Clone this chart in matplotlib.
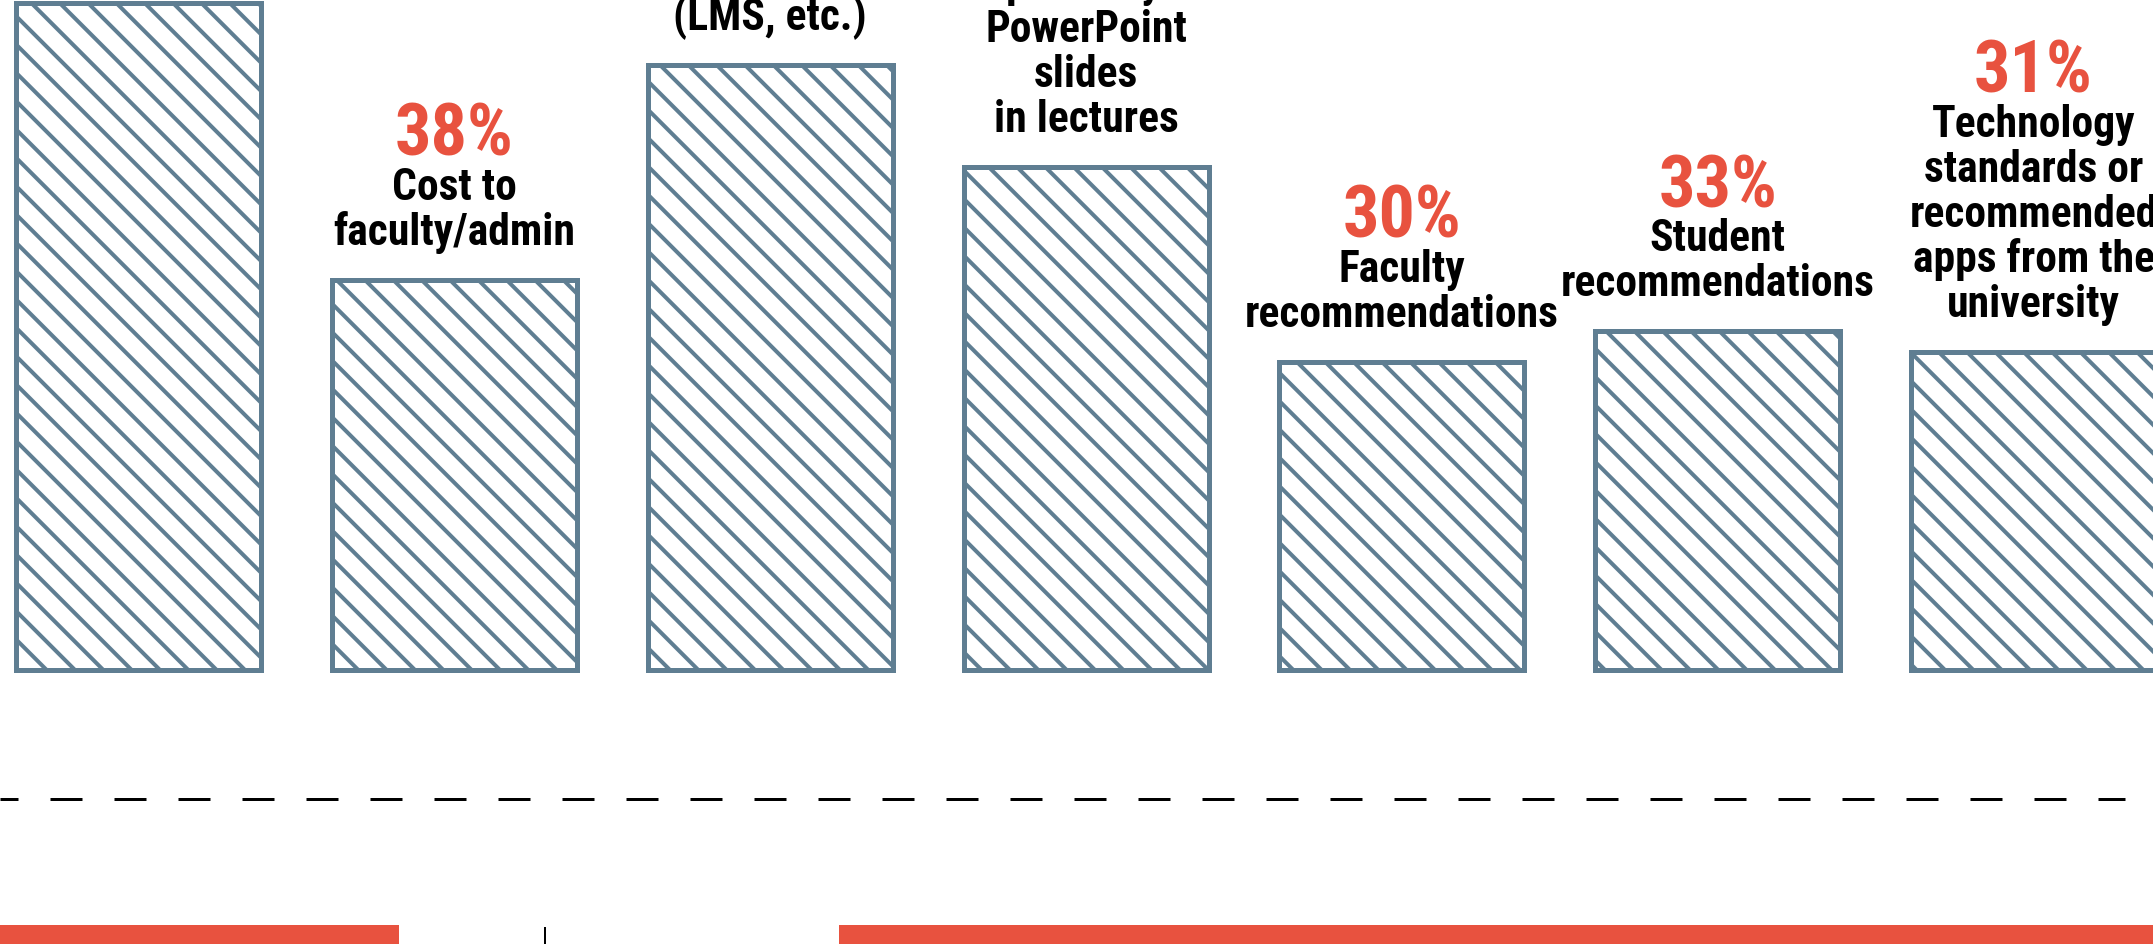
import matplotlib
matplotlib.use("Agg")
import matplotlib.pyplot as plt
from matplotlib.lines import Line2D
from matplotlib.patches import Rectangle

# data (bars 1, 3 and 4 have their labels cut off above the frame)
values = [65, 38, 59, 49, 30, 33, 31]
labels = [
    "Ease of use",
    "Cost to\nfaculty/admin",
    "Integration with\nexisting systems\n(LMS, etc.)",
    "Compatibility with\nPowerPoint\nslides\nin lectures",
    "Faculty\nrecommendations",
    "Student\nrecommendations",
    "Technology\nstandards or\nrecommended\napps from the\nuniversity",
]

BAR_COLOR = "#5f7e92"
ACCENT = "#e8523f"
FONT = ["Roboto Condensed", "Liberation Sans Narrow", "Roboto", "DejaVu Sans"]

W, H, DPI = 2153, 944, 170
PX = 72 / DPI  # one pixel in points

plt.rcParams["hatch.linewidth"] = 4 * PX
plt.rcParams["lines.scale_dashes"] = False

fig = plt.figure(figsize=(W / DPI, H / DPI), dpi=DPI)
ax = fig.add_axes([0, 0, 1, 1])
ax.set_axis_off()

pitch = 315.8   # px between bar centres
first = 138.7   # px, centre of first bar
per_pct = 10.25  # px per percent
base = 274.5     # px of baseline above bottom edge

ax.set_xlim(-first / pitch, (W - first) / pitch)
ax.set_ylim(-base / per_pct, (H - base) / per_pct)

x = list(range(len(values)))
ax.bar(x, values, width=245 / pitch, color="white", edgecolor=BAR_COLOR,
       linewidth=5 * PX, hatch="\\\\", zorder=2)

line_gap = 45 * PX
for xi, v, lab in zip(x, values, labels):
    lines = lab.split("\n")
    off = 35 * PX
    for ln in reversed(lines):
        ax.annotate(ln, (xi, v), xytext=(0, off), textcoords="offset points",
                    ha="center", va="baseline", fontsize=18.5, fontweight="bold",
                    family=FONT, color="black", annotation_clip=False)
        off += line_gap
    ax.annotate(f"{v}%", (xi, v), xytext=(0, off - 1 * PX), textcoords="offset points",
                ha="center", va="baseline", fontsize=30.5, fontweight="bold",
                family=FONT, color=ACCENT, annotation_clip=False)

# dashed separator
fig.add_artist(Line2D([0, 2125 / W], [145 / H, 145 / H], transform=fig.transFigure,
                      color="black", linewidth=3 * PX,
                      linestyle=(14 * PX, (32 * PX, 32 * PX))))

# start of the next section (cut off at bottom)
fig.add_artist(Rectangle((0, 0), 399 / W, 19 / H, transform=fig.transFigure,
                         facecolor=ACCENT, edgecolor="none"))
fig.add_artist(Rectangle((839 / W, 0), 1 - 839 / W, 19 / H, transform=fig.transFigure,
                         facecolor=ACCENT, edgecolor="none"))
fig.add_artist(Line2D([545 / W, 545 / W], [0, 16 / H], transform=fig.transFigure,
                      color="black", linewidth=2 * PX))

fig.savefig("out.png", dpi=DPI, facecolor="white")
